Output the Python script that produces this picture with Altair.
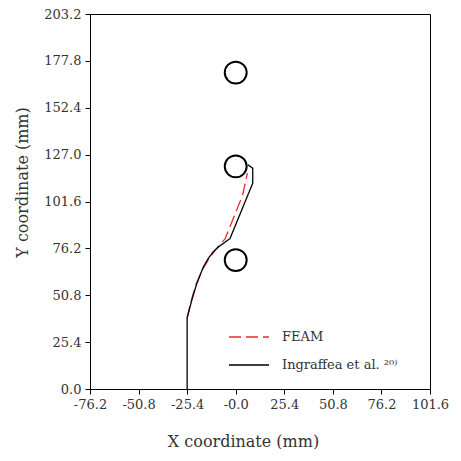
import altair as alt
import pandas as pd

# Crack path data (mm)
ing_x = [-25.4, -25.4, -23.0, -20.4, -17.0, -14.3, -11.7, -9.0, -5.0, -3.0, 8.9, 8.9, 6.4]
ing_y = [0.0, 38.5, 48.0, 57.0, 66.0, 70.8, 74.4, 77.0, 80.0, 81.5, 111.5, 119.6, 121.5]
feam_x = [-25.4, -23.5, -21.0, -17.5, -14.0, -10.5, -5.5, 3.6, 6.1]
feam_y = [38.5, 47.0, 56.0, 64.5, 70.5, 75.5, 81.5, 105.0, 117.0]

hole_x = [0.0, 0.0, 0.0]
hole_y = [69.85, 120.65, 171.45]

series_names = ["FEAM", "Ingraffea et al. ²⁰⁾"]
series_colors = ["#ee2a2a", "#000000"]

x_ticks = [-76.2, -50.8, -25.4, 0.0, 25.4, 50.8, 76.2, 101.6]
y_ticks = [0.0, 25.4, 50.8, 76.2, 101.6, 127.0, 152.4, 177.8, 203.2]

rows = []
for i, (x, y) in enumerate(zip(feam_x, feam_y)):
    rows.append({"x": x, "y": y, "series": series_names[0], "i": i})
for i, (x, y) in enumerate(zip(ing_x, ing_y)):
    rows.append({"x": x, "y": y, "series": series_names[1], "i": i})
lines_df = pd.DataFrame(rows)
holes_df = pd.DataFrame({"x": hole_x, "y": hole_y})

FONT = "DejaVu Serif"

xscale = alt.Scale(domain=[-76.2, 101.6], nice=False, zero=False)
yscale = alt.Scale(domain=[0, 203.2], nice=False, zero=False)

xaxis = alt.Axis(
    values=x_ticks,
    labelExpr="datum.value == 0 ? '-0.0' : (datum.value < 0 ? '-' + format(-datum.value, '.1f') : format(datum.value, '.1f'))",
    labelOverlap=False,
    labelFlush=False,
    title="X coordinate (mm)",
    titleX=153, titleY=52, titleBaseline="middle", titleAlign="center",
)
yaxis = alt.Axis(
    values=y_ticks,
    format=".1f",
    labelOverlap=False,
    labelFlush=False,
    title="Y coordinate (mm)",
    titleX=-68, titleY=168, titleAngle=-90, titleBaseline="middle", titleAlign="center",
)

lines = alt.Chart(lines_df).mark_line(strokeWidth=1.3).encode(
    x=alt.X("x:Q", scale=xscale, axis=xaxis),
    y=alt.Y("y:Q", scale=yscale, axis=yaxis),
    color=alt.Color("series:N", scale=alt.Scale(domain=series_names, range=series_colors), title=None),
    strokeDash=alt.StrokeDash("series:N", scale=alt.Scale(domain=series_names, range=[[12, 5], [1, 0]]), title=None),
    order="i:Q",
)

holes = alt.Chart(holes_df).mark_point(
    shape="circle", filled=False, size=480, stroke="black", strokeWidth=2, opacity=1
).encode(
    x=alt.X("x:Q", scale=xscale),
    y=alt.Y("y:Q", scale=yscale),
)

chart = alt.layer(holes, lines).properties(
    width=340, height=375,
    padding={"left": 82, "top": 6, "right": 20, "bottom": 60},
    autosize=alt.AutoSizeParams(type="none"),
).configure_view(
    stroke="black", strokeWidth=1
).configure_axis(
    grid=False, domainColor="black", tickColor="black", tickSize=5,
    labelFont=FONT, labelFontSize=13, labelColor="#333333", labelPadding=4,
    titleFont=FONT, titleFontSize=16, titleFontWeight="normal", titleColor="#333333",
).configure_legend(
    orient="none", legendX=138, legendY=302, padding=0,
    symbolType="stroke", symbolSize=1600, symbolStrokeWidth=1.4,
    labelFont=FONT, labelFontSize=13, labelColor="#333333", labelOffset=12,
    rowPadding=-1,
)

chart.save("out.html", embed_options={"renderer": "svg", "actions": False})
